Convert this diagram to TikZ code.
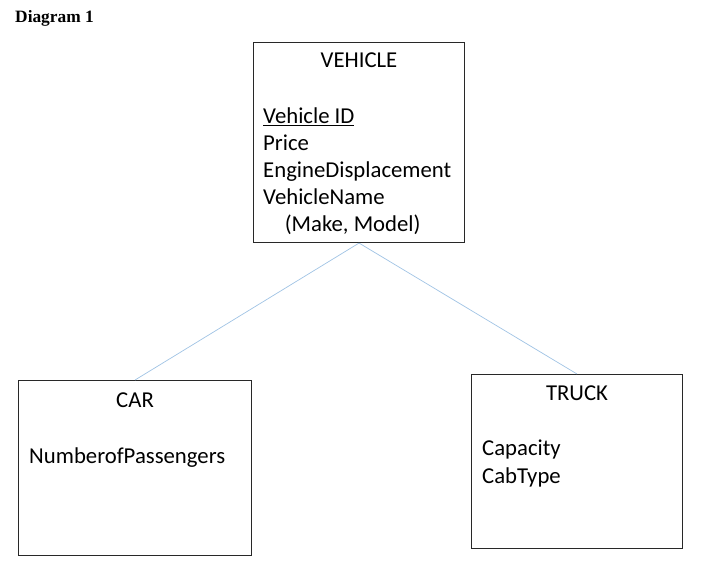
\documentclass[tikz,border=0pt]{standalone}
\usepackage{fontspec}
\setmainfont{Carlito}
\newfontfamily\captionfont{Liberation Serif}
\usetikzlibrary{positioning}
\usetikzlibrary{calc}
\definecolor{linkblue}{RGB}{160,195,228}
\definecolor{edgegray}{RGB}{40,40,40}

\begin{document}
\begin{tikzpicture}[x=0.03cm, y=-0.03cm,
    entity/.style={draw=edgegray, line width=0.9pt, rectangle, inner sep=0pt, anchor=north west},
    entname/.style={anchor=base, inner sep=0pt, font=\fontsize{19.4}{23.2}\selectfont},
    attrs/.style={anchor=north west, align=left, inner sep=0pt, font=\fontsize{19.4}{23.2}\selectfont},
    link/.style={draw=linkblue, line width=0.6pt}]
    \useasboundingbox (0,0) rectangle (707,567);

    \node (caption) [anchor=base west, inner sep=0pt, font=\captionfont\bfseries\fontsize{14.8}{18}\selectfont] at (15,23) {Diagram 1};

    % entity boxes
    \node (vehicle) [entity, minimum width=6.33cm, minimum height=6.0cm] at (253,42) {};
    \node (car) [entity, minimum width=6.99cm, minimum height=5.25cm] at (18,380) {};
    \node (truck) [entity, minimum width=6.33cm, minimum height=5.22cm] at (471,374) {};

    % names and attributes
    \node (vehiclename) [entname] at ($(vehicle.north)+(0,26)$) {VEHICLE};
    \node (vehicleattrs) [attrs] at ($(vehicle.north west)+(10,65)$)
        {\underline{Vehicle ID}\\Price\\EngineDisplacement\\VehicleName\\\hspace{0.95em}(Make, Model)};
    \node (carname) [entname] at ($(car.north)+(0,27)$) {CAR};
    \node (carattrs) [attrs] at ($(car.north west)+(11,67)$) {NumberofPassengers};
    \node (truckname) [entname] at ($(truck.north)+(0,26)$) {TRUCK};
    \node (truckattrs) [attrs] at ($(truck.north west)+(11,66)$) {Capacity\\CabType};

    \draw[link] (vehicle.south) -- (car.north);
    \draw[link] (vehicle.south) -- (truck.north);
\end{tikzpicture}
\end{document}
